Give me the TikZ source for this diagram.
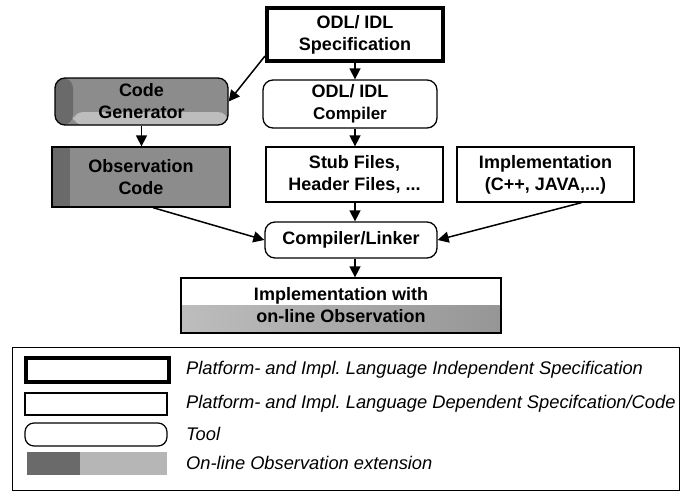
\documentclass[tikz,border=0pt]{standalone}
\usepackage{fontspec}
\newfontfamily\lsans{Liberation Sans}
\usetikzlibrary{arrows.meta,calc}
\frenchspacing

\definecolor{obsgray}{HTML}{8C8C8C}
\definecolor{obsdark}{HTML}{6A6A6A}
\definecolor{obslight}{HTML}{BDBDBD}

\tikzset{
  box/.style={draw, line width=1.3pt, fill=white, align=center, inner sep=0pt,
    font=\lsans\bfseries\fontsize{18}{22}\selectfont},
  specbox/.style={box, line width=4pt},
  toolbox/.style={box, rounded corners=10pt},
  conn/.style={line width=1.5pt, -{Triangle[length=11pt,width=11pt]}},
  legtext/.style={anchor=west, inner sep=0pt,
    font=\lsans\itshape\fontsize{18.3}{22}\selectfont},
  obsfill/.style={fill=obsgray, path picture={
    \fill[obsdark] (path picture bounding box.north west) rectangle
      ([xshift=18pt]path picture bounding box.south west);}},
  genfill/.style={fill=obsgray, path picture={
    \fill[obslight] ([xshift=18pt,yshift=13pt]path picture bounding box.south west)
      rectangle (path picture bounding box.south east);
    \fill[obsdark] (path picture bounding box.north west) rectangle
      ([xshift=18pt]path picture bounding box.south west);}},
  resfill/.style={path picture={
    \shade[left color=obslight, right color=obsgray!80!obslight]
      ([yshift=28pt]path picture bounding box.south west)
      rectangle (path picture bounding box.south east);}},
}

\begin{document}
\begin{tikzpicture}[x=1pt, y=-1pt]
\useasboundingbox (0,0) rectangle (680,498);

% main flow
\node[specbox, minimum width=176pt, minimum height=53pt] (spec) at (355,34.5)
  {ODL/ IDL\\Specification};
\node[toolbox, minimum width=174pt, minimum height=48pt] (odlc) at (350,104)
  {ODL/ IDL\\\fontsize{17}{20}\selectfont Compiler};
\node[toolbox, genfill, minimum width=173pt, minimum height=47pt] (cgen) at (141.5,101.5)
  {Code\\Generator};
\node[box, obsfill, minimum width=178pt, minimum height=60pt] (obs) at (141,177)
  {Observation\\Code};
\node[box, minimum width=177pt, minimum height=55pt] (stub) at (354.5,174.5)
  {Stub Files,\\Header Files, ...};
\node[box, minimum width=177pt, minimum height=55pt] (impl) at (545.5,174.5)
  {Implementation\\(C++, JAVA,...)};
\node[toolbox, minimum width=172pt, minimum height=36pt] (link) at (351,240)
  {Compiler/Linker};
\node[box, resfill, minimum width=320pt, minimum height=55pt] (res) at (341,305.5)
  {Implementation with\\on-line Observation};

% connectors
\draw[conn] (spec.south) -- (spec.south |- odlc.north);
\draw[conn] ($(spec.south west)+(0,-7)$) -- (cgen.east);
\draw[conn] (cgen.south) -- (cgen.south |- obs.north);
\draw[conn] (spec.south |- odlc.south) -- (spec.south |- stub.north);
\draw[conn] (spec.south |- stub.south) -- (spec.south |- link.north);
\draw[conn] ($(obs.south)+(12,0)$) -- (link.west);
\draw[conn] ($(impl.south)+(36,0)$) -- (link.east);
\draw[conn] (spec.south |- link.south) -- (spec.south |- res.north);

% legend
\node[draw, line width=1pt, minimum width=667pt, minimum height=143pt, inner sep=0pt]
  (legend) at (345.5,418.5) {};
\node[draw, line width=4pt, minimum width=143pt, minimum height=24pt, inner sep=0pt]
  (lspec) at (97.5,370) {};
\node[draw, line width=1.2pt, minimum width=142pt, minimum height=22pt, inner sep=0pt]
  (lplain) at (96,404) {};
\node[draw, line width=1.2pt, rounded corners=9pt, minimum width=142pt,
  minimum height=23pt, inner sep=0pt] (ltool) at (96,434.5) {};
\coordinate (lobs) at (27,452);
\fill[obsdark] (lobs) rectangle ++(53,23);
\fill[obslight!85!obsgray] ($(lobs)+(53,0)$) rectangle ++(87,23);

\node[legtext] (t1) at (186,370) {Platform- and Impl. Language Independent Specification};
\node[legtext] (t2) at (186,404) {Platform- and Impl. Language Dependent Specifcation/Code};
\node[legtext] (t3) at (186,434) {Tool};
\node[legtext] (t4) at (186,463) {On-line Observation extension};
\end{tikzpicture}
\end{document}
